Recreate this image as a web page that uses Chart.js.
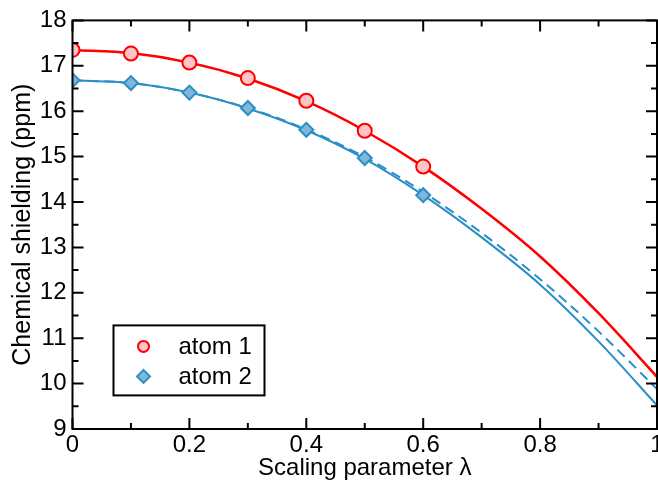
<!DOCTYPE html>
<html>
<head>
<meta charset="utf-8">
<script src="https://cdn.jsdelivr.net/npm/chart.js@4"></script>
<style>
  html, body { margin: 0; padding: 0; background: #fff; overflow: hidden; }
  #wrap { width: 658px; height: 483px; overflow: hidden; }
</style>
</head>
<body>
<!-- canvas is a little wider than the page so the right frame sits on the edge, like the original -->
<div id="wrap"><canvas id="graph" width="666" height="483"></canvas></div>
<script>
// fitted curves, every 0.1
const fitX = [0, 0.1, 0.2, 0.3, 0.4, 0.5, 0.6, 0.7, 0.8, 0.9, 1.0];
const fitAtom1 = [17.35, 17.28, 17.07, 16.72, 16.22, 15.57, 14.78, 13.85, 12.80, 11.55, 10.15];
const fitAtom2 = [16.68, 16.62, 16.41, 16.06, 15.58, 14.95, 14.15, 13.22, 12.18, 10.93, 9.52];
const fitAtom2Dashed = [16.68, 16.62, 16.41, 16.07, 15.60, 14.99, 14.22, 13.32, 12.30, 11.15, 9.88];

// computed points
const pointX = [0, 0.1, 0.2, 0.3, 0.4, 0.5, 0.6];
const atom1 = [17.35, 17.27, 17.07, 16.73, 16.23, 15.57, 14.78];
const atom2 = [16.68, 16.62, 16.41, 16.07, 15.59, 14.97, 14.15];

const xMajor = [0, 0.2, 0.4, 0.6, 0.8, 1.0];
const xMinor = [0.1, 0.3, 0.5, 0.7, 0.9];
const yMajor = [9, 10, 11, 12, 13, 14, 15, 16, 17, 18];
const yMinor = [9.5, 10.5, 11.5, 12.5, 13.5, 14.5, 15.5, 16.5, 17.5];

const RED = '#ff0000';
const PINK = '#ffc4c8';
const BLUE = '#2a8fc7';
const LIGHTBLUE = '#80b6d6';
const FONT = '"Liberation Sans", Arial, Helvetica, sans-serif';

function pairs(xs, ys) {
    return xs.map((x, i) => ({ x: x, y: ys[i] }));
}

// frame with inward ticks on all four sides
const framePlugin = {
    id: 'frame',
    afterDatasetsDraw(chart) {
        const ctx = chart.ctx;
        const a = chart.chartArea;
        const xs = chart.scales.x, ys = chart.scales.y;
        ctx.save();
        ctx.strokeStyle = '#000';
        ctx.lineWidth = 2;
        ctx.beginPath();
        xMajor.concat(xMinor).forEach(v => {
            let len = xMajor.includes(v) ? 11 : 6;
            let px = xs.getPixelForValue(v);
            ctx.moveTo(px, a.bottom); ctx.lineTo(px, a.bottom - len);
            ctx.moveTo(px, a.top); ctx.lineTo(px, a.top + len);
        });
        yMajor.concat(yMinor).forEach(v => {
            let len = yMajor.includes(v) ? 11 : 6;
            let py = ys.getPixelForValue(v);
            ctx.moveTo(a.left, py); ctx.lineTo(a.left + len, py);
            ctx.moveTo(a.right, py); ctx.lineTo(a.right - len, py);
        });
        ctx.stroke();
        ctx.strokeRect(a.left, a.top, a.right - a.left, a.bottom - a.top);
        ctx.restore();
    }
};

// boxed legend inside the plot, lower left
const boxLegend = {
    id: 'boxLegend',
    afterDraw(chart) {
        const ctx = chart.ctx;
        const a = chart.chartArea;
        const left = a.left + 41, top = a.top + 305;
        const w = 151, h = 70;
        ctx.save();
        ctx.fillStyle = '#fff';
        ctx.fillRect(left, top, w, h);
        ctx.strokeStyle = '#000';
        ctx.lineWidth = 2;
        ctx.strokeRect(left, top, w, h);

        const items = [
            { label: 'atom 1', ds: chart.data.datasets[3] },
            { label: 'atom 2', ds: chart.data.datasets[4] }
        ];
        items.forEach((it, i) => {
            let cy = top + 21 + i * 30;
            let cx = left + 30;
            ctx.fillStyle = it.ds.pointBackgroundColor;
            ctx.strokeStyle = it.ds.pointBorderColor;
            ctx.lineWidth = 2;
            ctx.beginPath();
            if (it.ds.pointStyle === 'circle') {
                ctx.arc(cx, cy, 5.5, 0, Math.PI * 2);
            } else {
                ctx.moveTo(cx, cy - 6.5); ctx.lineTo(cx + 6.5, cy);
                ctx.lineTo(cx, cy + 6.5); ctx.lineTo(cx - 6.5, cy);
                ctx.closePath();
            }
            ctx.fill();
            ctx.stroke();
            ctx.fillStyle = '#000';
            ctx.font = '24px ' + FONT;
            ctx.textBaseline = 'middle';
            ctx.fillText(it.label, left + 65, cy + 1);
        });
        ctx.restore();
    }
};

const canvas = document.getElementById('graph').getContext('2d');

new Chart(canvas, {
    type: 'scatter',
    data: {
        datasets: [
            {
                label: 'fit 1',
                data: pairs(fitX, fitAtom1),
                showLine: true,
                borderColor: RED,
                borderWidth: 2.5,
                pointRadius: 0,
                cubicInterpolationMode: 'monotone',
                order: 3
            },
            {
                label: 'fit 2',
                data: pairs(fitX, fitAtom2),
                showLine: true,
                borderColor: BLUE,
                borderWidth: 2,
                pointRadius: 0,
                cubicInterpolationMode: 'monotone',
                order: 3
            },
            {
                label: 'fit 2 dashed',
                data: pairs(fitX, fitAtom2Dashed),
                showLine: true,
                borderColor: BLUE,
                borderWidth: 2,
                borderDash: [10, 6],
                pointRadius: 0,
                cubicInterpolationMode: 'monotone',
                order: 2
            },
            {
                label: 'atom 1',
                data: pairs(pointX, atom1),
                showLine: false,
                pointStyle: 'circle',
                pointRadius: 7,
                pointBorderWidth: 2,
                pointBackgroundColor: PINK,
                pointBorderColor: RED,
                order: 0
            },
            {
                label: 'atom 2',
                data: pairs(pointX, atom2),
                showLine: false,
                pointStyle: 'rectRot',
                pointRadius: 7,
                pointBorderWidth: 2,
                pointBackgroundColor: LIGHTBLUE,
                pointBorderColor: BLUE,
                order: 1
            }
        ]
    },
    options: {
        responsive: false,
        animation: false,
        events: [],
        layout: { padding: { top: 18, right: 0, left: 0, bottom: 0 } },
        scales: {
            x: {
                type: 'linear',
                min: 0,
                max: 1,
                grid: { display: false, drawTicks: false },
                border: { display: false },
                afterBuildTicks: (axis) => { axis.ticks = xMajor.map(v => ({ value: v })); },
                afterFit: (axis) => { axis.height = 54; },
                ticks: {
                    padding: 2,
                    color: '#000',
                    font: { family: FONT, size: 24 },
                    maxRotation: 0,
                    callback: (v) => String(Math.round(v * 10) / 10)
                },
                title: {
                    display: true,
                    text: 'Scaling parameter λ',
                    color: '#000',
                    font: { family: FONT, size: 24 },
                    padding: { top: 4, bottom: 0 }
                }
            },
            y: {
                type: 'linear',
                min: 9,
                max: 18,
                grid: { display: false, drawTicks: false },
                border: { display: false },
                afterBuildTicks: (axis) => { axis.ticks = yMajor.map(v => ({ value: v })); },
                afterFit: (axis) => { axis.width = 72.5; },
                ticks: {
                    padding: 6,
                    color: '#000',
                    font: { family: FONT, size: 24 }
                },
                title: {
                    display: true,
                    text: 'Chemical shielding (ppm)',
                    color: '#000',
                    font: { family: FONT, size: 25 },
                    padding: { top: 8, bottom: 0 }
                }
            }
        },
        plugins: {
            legend: { display: false },
            tooltip: { enabled: false }
        }
    },
    plugins: [framePlugin, boxLegend]
});
</script>
</body>
</html>
